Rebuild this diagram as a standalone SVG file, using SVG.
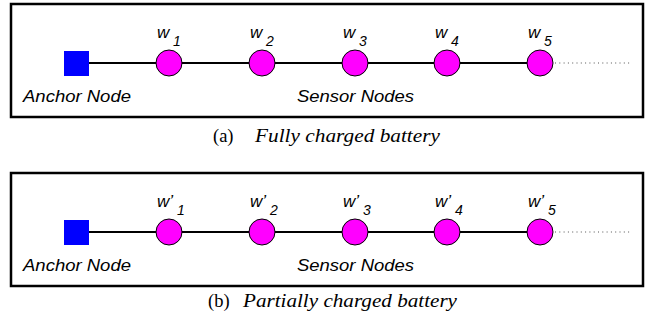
<svg xmlns="http://www.w3.org/2000/svg" width="648" height="323" viewBox="0 0 648 323">
<style>
.frame{fill:none;stroke:#000;stroke-width:2.5}
.link{stroke:#000;stroke-width:2;fill:none}
.dots{stroke:#555;stroke-width:1.2;stroke-dasharray:1 3.3;fill:none}
.anchor{fill:#0000ff}
.sensor{fill:#ff00ff;stroke:#000;stroke-width:1}
.lbl{font-family:"Liberation Sans",Arial,sans-serif;font-style:italic;font-size:17px;fill:#000}
.w{font-family:"Liberation Sans",Arial,sans-serif;font-style:italic;font-size:17px;fill:#000}
.sub{font-family:"Liberation Sans",Arial,sans-serif;font-style:italic;font-size:14px;fill:#000}
.cap{font-family:"Liberation Serif","Times New Roman",serif;font-size:18.5px;fill:#000}
.capi{font-style:italic}
</style>
<rect class="frame" x="11" y="4" width="632" height="113"/>
<rect class="frame" x="11" y="173" width="632" height="113"/>
<g id="connectors">
<line class="link" x1="89" y1="63" x2="540" y2="63"/>
<line class="dots" x1="555" y1="63" x2="631" y2="63"/>
<line class="link" x1="89" y1="232" x2="540" y2="232"/>
<line class="dots" x1="555" y1="232" x2="631" y2="232"/>
</g>
<g id="anchor_a"><rect class="anchor" x="64" y="51" width="25" height="25"/><text class="lbl" x="23" y="102" textLength="108" lengthAdjust="spacingAndGlyphs">Anchor Node</text></g>
<g id="w1"><circle class="sensor" cx="169" cy="63" r="13"/><text class="w" x="157" y="38">w</text><text class="sub" x="173" y="46">1</text></g>
<g id="w2"><circle class="sensor" cx="262" cy="63" r="13"/><text class="w" x="250" y="38">w</text><text class="sub" x="266" y="46">2</text></g>
<g id="w3"><circle class="sensor" cx="355" cy="63" r="13"/><text class="w" x="343" y="38">w</text><text class="sub" x="359" y="46">3</text></g>
<g id="w4"><circle class="sensor" cx="447" cy="63" r="13"/><text class="w" x="435" y="38">w</text><text class="sub" x="451" y="46">4</text></g>
<g id="w5"><circle class="sensor" cx="540" cy="63" r="13"/><text class="w" x="528" y="38">w</text><text class="sub" x="544" y="46">5</text></g>
<text class="lbl" x="297" y="102" textLength="117" lengthAdjust="spacingAndGlyphs">Sensor Nodes</text>
<text class="cap" x="213" y="142">(a)<tspan class="capi" x="255" textLength="185" lengthAdjust="spacingAndGlyphs">Fully charged battery</tspan></text>
<g id="anchor_b"><rect class="anchor" x="64" y="220" width="25" height="25"/><text class="lbl" x="23" y="271" textLength="108" lengthAdjust="spacingAndGlyphs">Anchor Node</text></g>
<g id="wp1"><circle class="sensor" cx="169" cy="232" r="13"/><text class="w" x="157" y="207">w’</text><text class="sub" x="177" y="215">1</text></g>
<g id="wp2"><circle class="sensor" cx="262" cy="232" r="13"/><text class="w" x="250" y="207">w’</text><text class="sub" x="270" y="215">2</text></g>
<g id="wp3"><circle class="sensor" cx="355" cy="232" r="13"/><text class="w" x="343" y="207">w’</text><text class="sub" x="363" y="215">3</text></g>
<g id="wp4"><circle class="sensor" cx="447" cy="232" r="13"/><text class="w" x="435" y="207">w’</text><text class="sub" x="455" y="215">4</text></g>
<g id="wp5"><circle class="sensor" cx="540" cy="232" r="13"/><text class="w" x="528" y="207">w’</text><text class="sub" x="548" y="215">5</text></g>
<text class="lbl" x="297" y="271" textLength="117" lengthAdjust="spacingAndGlyphs">Sensor Nodes</text>
<text class="cap" x="208" y="307">(b)<tspan class="capi" x="243" textLength="214" lengthAdjust="spacingAndGlyphs">Partially charged battery</tspan></text>
</svg>
